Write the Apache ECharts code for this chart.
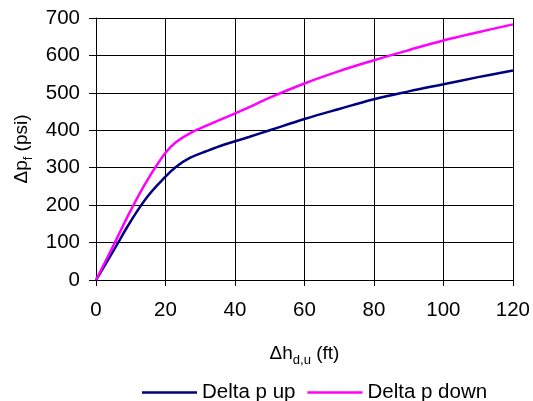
<!DOCTYPE html>
<html>
<head>
<meta charset="utf-8">
<script src="https://cdn.jsdelivr.net/npm/echarts@6/dist/echarts.min.js"></script>
<style>
  html, body { margin: 0; padding: 0; background: #fff; }
  #chart { width: 533px; height: 401px; }
</style>
</head>
<body>
<div id="chart"></div>
<script>
// Head difference (ft) and frictional pressure drop (psi)
var headDiff = [0, 5, 10, 15, 20, 23, 27, 32, 37, 44, 50, 60, 70, 80, 90, 100, 110, 120];
var deltaPUp = [0, 78, 157, 225, 276, 302, 326, 345, 362, 382, 400, 430, 457, 483, 504, 523, 542, 560];
var deltaPDown = [0, 92, 186, 270, 340, 368, 392, 413, 433, 461, 487, 525, 558, 587, 614, 640, 662, 683];
var seriesNames = ['Delta p up', 'Delta p down'];

function pairs(xs, ys) {
  return xs.map(function (x, i) { return [x, ys[i]]; });
}

var FONT = 'Liberation Sans, Arial, sans-serif';
var chart = echarts.init(document.getElementById('chart'), null, { renderer: 'canvas' });

var nameRich = {
  m: { fontSize: 19, fontFamily: FONT, color: '#000', verticalAlign: 'bottom', lineHeight: 22 },
  s: { fontSize: 13, fontFamily: FONT, color: '#000', verticalAlign: 'bottom', lineHeight: 14, padding: [0, 0, -4, 0] }
};

chart.setOption({
  animation: false,
  backgroundColor: '#ffffff',
  textStyle: { fontFamily: FONT, color: '#000' },
  grid: { left: 96, right: 20, top: 18, bottom: 121, containLabel: false },
  xAxis: {
    type: 'value',
    min: 0, max: 120, interval: 20,
    name: '{m|Δh}{s|d,u}{m| (ft)}',
    nameLocation: 'middle',
    nameGap: 61,
    nameTextStyle: { rich: nameRich },
    axisLine: { show: true, lineStyle: { color: '#000', width: 1 } },
    axisTick: { show: true, inside: false, length: 6, lineStyle: { color: '#000' } },
    axisLabel: { fontSize: 20.5, color: '#000', fontFamily: FONT, margin: 20 },
    splitLine: { show: true, lineStyle: { color: '#000', width: 1 } }
  },
  yAxis: {
    type: 'value',
    min: 0, max: 700, interval: 100,
    name: '{m|Δp}{s|f}{m| (psi)}',
    nameLocation: 'middle',
    nameGap: 64,
    nameRotate: 90,
    nameTextStyle: { rich: nameRich },
    axisLine: { show: true, lineStyle: { color: '#000', width: 1 } },
    axisTick: { show: true, inside: false, length: 7, lineStyle: { color: '#000' } },
    axisLabel: { fontSize: 20.5, color: '#000', fontFamily: FONT, margin: 16 },
    splitLine: { show: true, lineStyle: { color: '#000', width: 1 } }
  },
  legend: {
    left: 137,
    top: 377,
    icon: 'rect',
    itemWidth: 55,
    itemHeight: 2.5,
    itemGap: 12,
    textStyle: { fontSize: 20.5, color: '#000', fontFamily: FONT, padding: [0, 0, 0, 0] },
    data: seriesNames
  },
  series: [
    {
      name: seriesNames[0],
      type: 'line',
      data: pairs(headDiff, deltaPUp),
      smooth: 0.4,
      symbol: 'none',
      lineStyle: { color: '#000080', width: 2.5 },
      itemStyle: { color: '#000080' }
    },
    {
      name: seriesNames[1],
      type: 'line',
      data: pairs(headDiff, deltaPDown),
      smooth: 0.4,
      symbol: 'none',
      lineStyle: { color: '#ff00ff', width: 2.5 },
      itemStyle: { color: '#ff00ff' }
    }
  ]
});
</script>
</body>
</html>
